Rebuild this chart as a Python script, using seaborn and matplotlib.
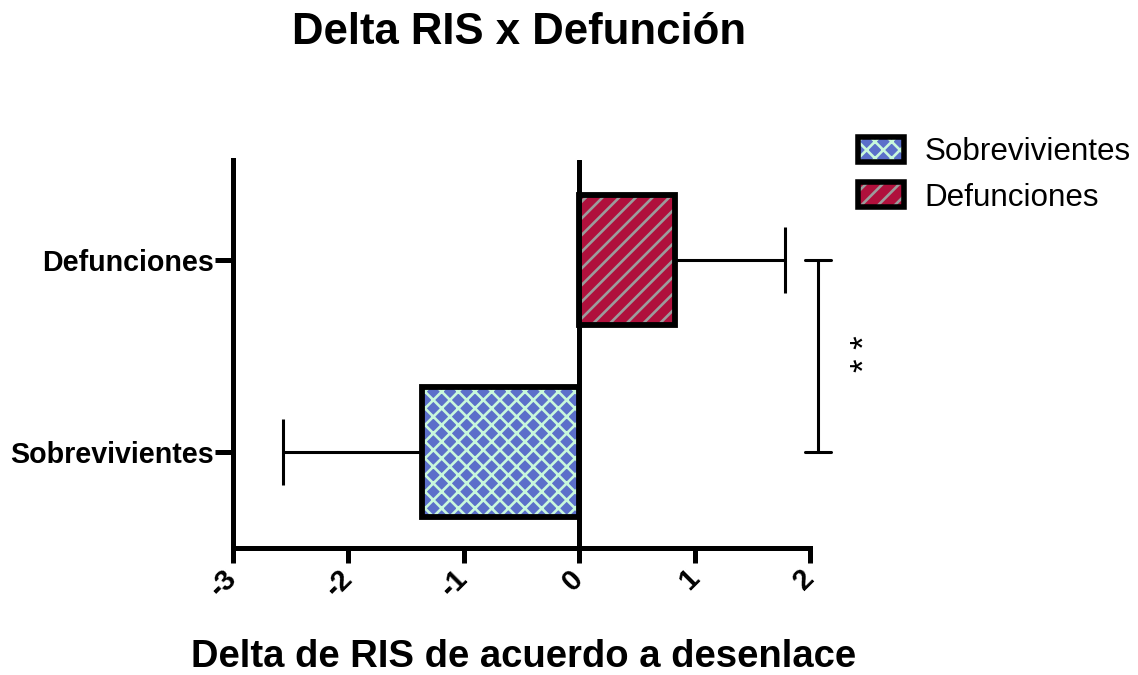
import matplotlib
matplotlib.use("Agg")
import matplotlib.pyplot as plt
import seaborn as sns
import pandas as pd
from matplotlib.patches import Patch, Rectangle

# ---- data ----
categories = ["Defunciones", "Sobrevivientes"]
means = [0.83, -1.36]
errors = [0.95, 1.21]
legend_labels = ["Sobrevivientes", "Defunciones"]
xticks = [-3, -2, -1, 0, 1, 2]
sig_label = "* *"
title = "Delta RIS x Defunción"
xlabel = "Delta de RIS de acuerdo a desenlace"

face = {"Sobrevivientes": "#5b6fca", "Defunciones": "#b0103c"}
hatchc = {"Sobrevivientes": "#c8f8dc", "Defunciones": "#9c9c9c"}
hatches = {"Sobrevivientes": "xx", "Defunciones": "//"}

sns.set_theme(style="ticks")
plt.rcParams['font.family'] = ['Liberation Sans', 'DejaVu Sans']
plt.rcParams['hatch.linewidth'] = 1.9
for k in ["text.color", "axes.labelcolor", "xtick.color", "ytick.color",
          "axes.edgecolor"]:
    plt.rcParams[k] = "black"

fig = plt.figure(figsize=(11.38, 6.75), dpi=100)
ax = fig.add_axes([233/1138, 1-548/675, 577/1138, 388/675])

df = pd.DataFrame({"cat": categories, "val": means})
sns.barplot(data=df, x="val", y="cat", order=categories, orient="h",
            width=0.68, errorbar=None, ax=ax)

for p, cat, m, e in zip(ax.patches, categories, means, errors):
    p.set_facecolor(face[cat])
    p.set_hatch(hatches[cat])
    p.set_edgecolor(hatchc[cat])
    p.set_linewidth(0)
    ax.add_patch(Rectangle(p.get_xy(), p.get_width(), p.get_height(),
                           fill=False, edgecolor="black", linewidth=4.2,
                           zorder=p.get_zorder() + 0.5))
    yc = p.get_y() + p.get_height() / 2
    xerr = [[0], [e]] if m >= 0 else [[e], [0]]
    ax.errorbar(m, yc, xerr=xerr, color="black", elinewidth=2.2,
                capsize=24, capthick=2.2, fmt="none", zorder=1)

ax.axvline(0, color="black", linewidth=3.6, zorder=4)
ax.set_xlim(xticks[0], xticks[-1])
ax.set_ylim(1.5, -0.52)

# significance bracket
bx = 2.07
ax.plot([bx, bx], [0, 1], color="black", lw=2.2, clip_on=False)
ax.plot([bx - 0.11, bx + 0.11], [0, 0], color="black", lw=2.2, clip_on=False)
ax.plot([bx - 0.11, bx + 0.11], [1, 1], color="black", lw=2.2, clip_on=False)
ax.text(2.48, 0.49, sig_label, rotation=90, ha="center", va="center",
        fontsize=25, clip_on=False)

for s in ["top", "right"]:
    ax.spines[s].set_visible(False)
for s in ["left", "bottom"]:
    ax.spines[s].set_linewidth(3.6)
    ax.spines[s].set_color("black")

ax.set_xticks(xticks)
ax.set_xticklabels([str(t) for t in xticks], rotation=45, ha="right",
                   va="center", rotation_mode="anchor", fontweight="bold",
                   fontsize=21)
ax.tick_params(axis="x", length=11, width=3.6, color="black", pad=8,
               bottom=True)
ax.tick_params(axis="y", length=13, width=3.6, color="black", pad=1,
               left=True, labelsize=20.6)
for lab in ax.get_yticklabels():
    lab.set_fontweight("bold")
ax.set_ylabel("")
ax.set_xlabel(xlabel, fontsize=27.5, fontweight="bold")
ax.xaxis.set_label_coords(0.503, (548 - 657) / 388)
ax.xaxis.label.set_va("center")

fig.text(0.456, 1 - 32 / 675, title, ha="center", va="center",
         fontsize=31.5, fontweight="bold")

handles = []
for lab in legend_labels:
    h1 = Patch(facecolor=face[lab], hatch=hatches[lab], edgecolor=hatchc[lab], lw=0)
    h2 = Patch(fill=False, edgecolor="black", lw=4)
    handles.append((h1, h2))
fig.legend(handles, legend_labels, loc="upper left",
           bbox_to_anchor=(858 / 1138, 1 - 137 / 675), frameon=False,
           fontsize=22.6, handlelength=1.45, handleheight=0.85,
           handletextpad=0.68, labelspacing=0.48, borderaxespad=0, borderpad=0)

fig.savefig("out.png", dpi=100)
